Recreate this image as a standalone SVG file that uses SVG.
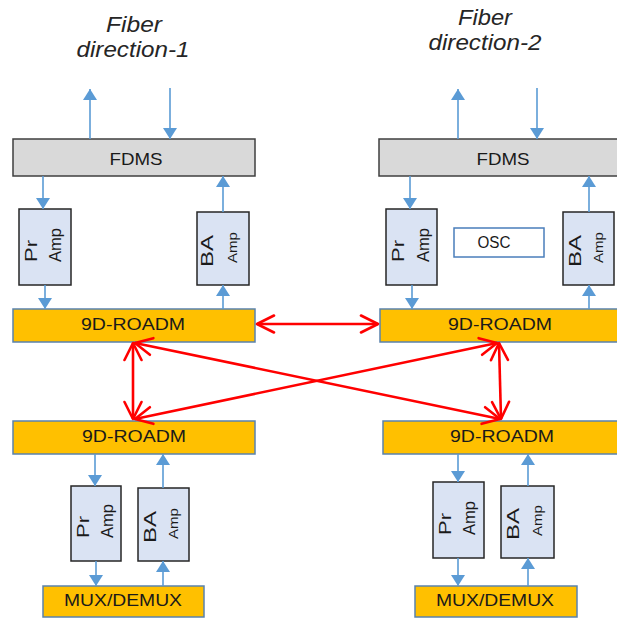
<svg xmlns="http://www.w3.org/2000/svg" width="617" height="618" viewBox="0 0 617 618">
<style>
text{font-family:"Liberation Sans",Arial,sans-serif;fill:#1a1a1a}
.fib{font-size:22px;font-style:italic;fill:#262626;text-anchor:middle}
.lbl{font-size:17px;text-anchor:middle}
.rot{font-size:16px}
.sm{font-size:12.5px}
.fdms{fill:#d9d9d9;stroke:#3f3f3f;stroke-width:1.5}
.amp{fill:#dae3f3;stroke:#262626;stroke-width:1.5}
.roadm{fill:#ffc000;stroke:#5a82ad;stroke-width:1.5}
.osc{fill:#ffffff;stroke:#4a7ebb;stroke-width:1.5}
.bl{stroke:#5b9bd5;stroke-width:1.6;fill:none;marker-end:url(#bh)}
.rd{stroke:#ff0000;stroke-width:2.6;fill:none;marker-start:url(#rh);marker-end:url(#rh)}
</style>
<defs>
<marker id="bh" markerUnits="userSpaceOnUse" markerWidth="12" markerHeight="14" refX="11" refY="7" orient="auto">
<path d="M0,0 L11,7 L0,14 Z" fill="#5b9bd5"/>
</marker>
<marker id="rh" markerUnits="userSpaceOnUse" viewBox="-1 -1 21 21" markerWidth="21" markerHeight="21" refX="18" refY="9.5" orient="auto-start-reverse">
<path d="M1,1 L18,9.5 L1,18" fill="none" stroke="#ff0000" stroke-width="2.6" stroke-linecap="round" stroke-linejoin="round"/>
</marker>
</defs>

<g id="labels">
<text class="fib" x="134" y="32" textLength="56" lengthAdjust="spacingAndGlyphs">Fiber</text>
<text class="fib" x="133" y="57" textLength="113" lengthAdjust="spacingAndGlyphs">direction-1</text>
<text class="fib" x="485" y="25" textLength="54" lengthAdjust="spacingAndGlyphs">Fiber</text>
<text class="fib" x="485" y="50" textLength="113" lengthAdjust="spacingAndGlyphs">direction-2</text>
</g>

<g id="fdms1"><rect class="fdms" x="13" y="139" width="242" height="37"/><text class="lbl" x="136" y="165" textLength="53" lengthAdjust="spacingAndGlyphs">FDMS</text></g>
<g id="fdms2"><rect class="fdms" x="379" y="139" width="242" height="37"/><text class="lbl" x="503" y="165" textLength="53" lengthAdjust="spacingAndGlyphs">FDMS</text></g>

<g id="pr1"><rect class="amp" x="19" y="209" width="52" height="76"/>
<text class="rot" transform="translate(37,262) rotate(-90)" textLength="22" lengthAdjust="spacingAndGlyphs">Pr</text>
<text class="rot" transform="translate(61,262) rotate(-90)" textLength="34" lengthAdjust="spacingAndGlyphs">Amp</text></g>
<g id="ba1"><rect class="amp" x="197" y="212" width="52" height="73"/>
<text class="rot" transform="translate(213,267) rotate(-90)" textLength="32" lengthAdjust="spacingAndGlyphs">BA</text>
<text class="rot sm" transform="translate(237,263) rotate(-90)" textLength="31" lengthAdjust="spacingAndGlyphs">Amp</text></g>

<g id="pr2"><rect class="amp" x="386" y="209" width="51" height="76"/>
<text class="rot" transform="translate(404,262) rotate(-90)" textLength="22" lengthAdjust="spacingAndGlyphs">Pr</text>
<text class="rot" transform="translate(429,262) rotate(-90)" textLength="34" lengthAdjust="spacingAndGlyphs">Amp</text></g>
<g id="osc"><rect class="osc" x="454" y="228" width="90" height="29"/><text class="lbl" x="494" y="248" style="font-size:16px" textLength="33" lengthAdjust="spacingAndGlyphs">OSC</text></g>
<g id="ba2"><rect class="amp" x="563" y="212" width="51" height="73"/>
<text class="rot" transform="translate(581,267) rotate(-90)" textLength="32" lengthAdjust="spacingAndGlyphs">BA</text>
<text class="rot sm" transform="translate(603,263) rotate(-90)" textLength="31" lengthAdjust="spacingAndGlyphs">Amp</text></g>

<g id="roadm1"><rect class="roadm" x="13" y="309" width="242" height="33"/><text class="lbl" x="133" y="330" textLength="104" lengthAdjust="spacingAndGlyphs">9D-ROADM</text></g>
<g id="roadm2"><rect class="roadm" x="380" y="309" width="242" height="33"/><text class="lbl" x="500" y="330" textLength="104" lengthAdjust="spacingAndGlyphs">9D-ROADM</text></g>
<g id="roadm3"><rect class="roadm" x="13" y="421" width="242" height="33"/><text class="lbl" x="134" y="442" textLength="104" lengthAdjust="spacingAndGlyphs">9D-ROADM</text></g>
<g id="roadm4"><rect class="roadm" x="383" y="421" width="242" height="33"/><text class="lbl" x="502" y="442" textLength="104" lengthAdjust="spacingAndGlyphs">9D-ROADM</text></g>

<g id="pr3"><rect class="amp" x="71" y="486" width="50" height="75"/>
<text class="rot" transform="translate(89,538) rotate(-90)" textLength="22" lengthAdjust="spacingAndGlyphs">Pr</text>
<text class="rot" transform="translate(113,538) rotate(-90)" textLength="34" lengthAdjust="spacingAndGlyphs">Amp</text></g>
<g id="ba3"><rect class="amp" x="138" y="488" width="51" height="73"/>
<text class="rot" transform="translate(156,543) rotate(-90)" textLength="32" lengthAdjust="spacingAndGlyphs">BA</text>
<text class="rot sm" transform="translate(178,539) rotate(-90)" textLength="31" lengthAdjust="spacingAndGlyphs">Amp</text></g>

<g id="pr4"><rect class="amp" x="433" y="482" width="51" height="76"/>
<text class="rot" transform="translate(451,535) rotate(-90)" textLength="22" lengthAdjust="spacingAndGlyphs">Pr</text>
<text class="rot" transform="translate(475,535) rotate(-90)" textLength="34" lengthAdjust="spacingAndGlyphs">Amp</text></g>
<g id="ba4"><rect class="amp" x="501" y="486" width="53" height="72"/>
<text class="rot" transform="translate(519,540) rotate(-90)" textLength="32" lengthAdjust="spacingAndGlyphs">BA</text>
<text class="rot sm" transform="translate(542,536) rotate(-90)" textLength="31" lengthAdjust="spacingAndGlyphs">Amp</text></g>

<g id="mux1"><rect class="roadm" x="43" y="586" width="161" height="31"/><text class="lbl" x="123" y="606" textLength="118" lengthAdjust="spacingAndGlyphs">MUX/DEMUX</text></g>
<g id="mux2"><rect class="roadm" x="415" y="586" width="162" height="31"/><text class="lbl" x="495" y="606" textLength="118" lengthAdjust="spacingAndGlyphs">MUX/DEMUX</text></g>

<g id="connectors">
<line class="bl" x1="90" y1="139" x2="90" y2="89"/>
<line class="bl" x1="170" y1="88" x2="170" y2="139"/>
<line class="bl" x1="43" y1="176" x2="43" y2="209"/>
<line class="bl" x1="223" y1="212" x2="223" y2="176"/>
<line class="bl" x1="45" y1="285" x2="45" y2="309"/>
<line class="bl" x1="223" y1="309" x2="223" y2="285"/>
<line class="bl" x1="458" y1="139" x2="458" y2="89"/>
<line class="bl" x1="537" y1="88" x2="537" y2="139"/>
<line class="bl" x1="410" y1="176" x2="410" y2="209"/>
<line class="bl" x1="589" y1="212" x2="589" y2="176"/>
<line class="bl" x1="412" y1="285" x2="412" y2="309"/>
<line class="bl" x1="589" y1="309" x2="589" y2="285"/>
<line class="bl" x1="95" y1="454" x2="95" y2="486"/>
<line class="bl" x1="163" y1="488" x2="163" y2="454"/>
<line class="bl" x1="96" y1="561" x2="96" y2="586"/>
<line class="bl" x1="163" y1="586" x2="163" y2="561"/>
<line class="bl" x1="458" y1="454" x2="458" y2="482"/>
<line class="bl" x1="528" y1="486" x2="528" y2="454"/>
<line class="bl" x1="458" y1="558" x2="458" y2="586"/>
<line class="bl" x1="528" y1="586" x2="528" y2="558"/>
<line class="rd" x1="257" y1="324" x2="378" y2="324"/>
<line class="rd" x1="133" y1="343" x2="133" y2="419"/>
<line class="rd" x1="499" y1="343" x2="501" y2="419"/>
<line class="rd" x1="135" y1="343" x2="500" y2="419"/>
<line class="rd" x1="135" y1="419" x2="497" y2="343"/>
</g>
</svg>
